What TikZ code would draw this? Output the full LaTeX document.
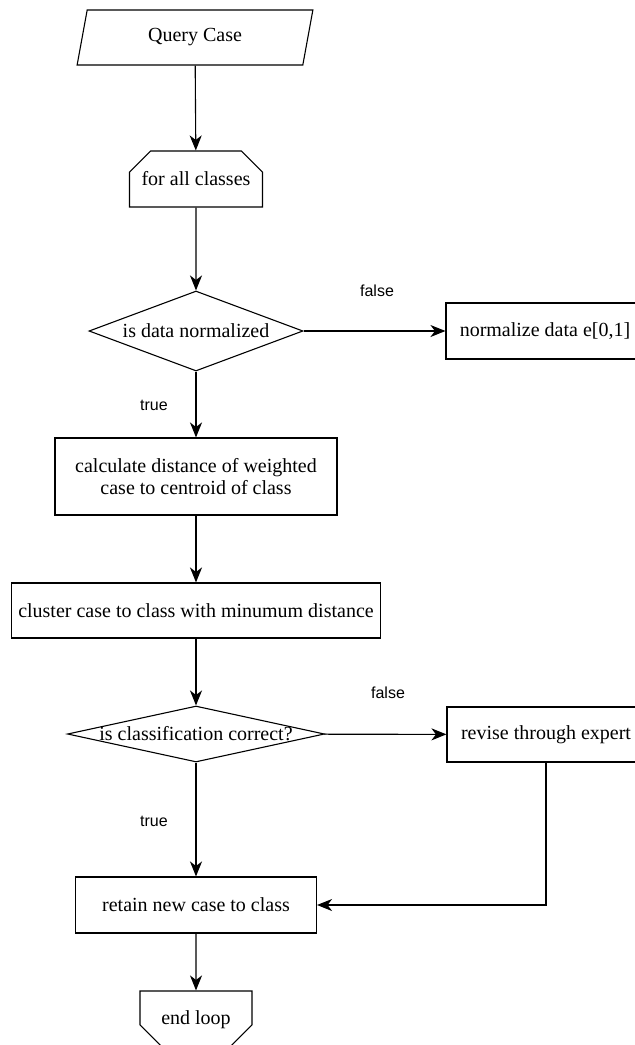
\documentclass[tikz,border=0pt]{standalone}
\usepackage{fontspec}
\setmainfont{Liberation Serif}
\setsansfont{Liberation Sans}
\usetikzlibrary{arrows.meta, positioning, shapes.geometric, shapes.misc}

\begin{document}
\begin{tikzpicture}[x=1pt, y=-1pt, line width=1.1pt,
    font=\fontsize{20}{22}\selectfont,
    % Styles for the flowchart blocks
    sbox/.style={draw, rectangle, inner sep=2pt, minimum height=56},
    sio/.style={draw, trapezium, trapezium left angle=76, trapezium right angle=104, trapezium stretches=true, minimum width=236, minimum height=55, inner sep=0pt},
    sloopA/.style={draw, chamfered rectangle, chamfered rectangle corners={north west, north east}, chamfered rectangle sep=14pt, minimum width=133, minimum height=56, inner sep=0pt},
    sloopB/.style={draw, chamfered rectangle, chamfered rectangle corners={south west, south east}, chamfered rectangle sep=14pt, minimum width=112, minimum height=57, inner sep=0pt},
    sdec/.style={draw, diamond, inner sep=0pt},
    slbl/.style={font=\sffamily\fontsize{16}{18}\selectfont, inner sep=0pt},
    sflow/.style={-{Stealth[length=15pt, width=12pt, inset=4.5pt]}}]

\useasboundingbox (0,0) rectangle (635,1045);
\clip (0,0) rectangle (635,1045);

% Main column
\node[sio] (query) at (195,37.5) {Query Case};
\node[sloopA] (forall) at (196,179) {for all classes};
\node[sdec, minimum width=214, minimum height=80, label=center:{is data normalized}] (dec1) at (196,331) {};
\node[sbox, minimum width=198] (norm) at (545,331) {normalize data e[0,1]};
\node[sbox, minimum width=282, minimum height=77, align=center] (calc) at (196,476.5) {calculate distance of weighted\\case to centroid of class};
\node[sbox, minimum width=369, minimum height=55] (clus) at (196,610.5) {cluster case to class with minumum distance};
\node[sdec, minimum width=257, minimum height=56, label=center:{is classification correct?}] (dec2) at (196,734) {};
\node[sbox, minimum width=198, minimum height=55] (revise) at (546,734.5) {revise through expert};
\node[sbox, minimum width=241] (retain) at (196,905) {retain new case to class};
\node[sloopB] (endloop) at (196,1019.5) {end loop};

% Branch labels
\node[slbl] (false1) at (377,291) {false};
\node[slbl] (true1) at (154,405) {true};
\node[slbl] (false2) at (388,693) {false};
\node[slbl] (true2) at (154,821) {true};

% Connectors
\draw[sflow] (query) -- (forall);
\draw[sflow] (forall) -- (dec1);
\draw[sflow] (dec1) -- (norm);
\draw[sflow] (dec1) -- (calc);
\draw[sflow] (calc) -- (clus);
\draw[sflow] (clus) -- (dec2);
\draw[sflow] (dec2) -- (revise);
\draw[sflow] (dec2) -- (retain);
\draw[sflow] (revise.south) |- (retain.east);
\draw[sflow] (retain) -- (endloop);

\end{tikzpicture}
\end{document}
